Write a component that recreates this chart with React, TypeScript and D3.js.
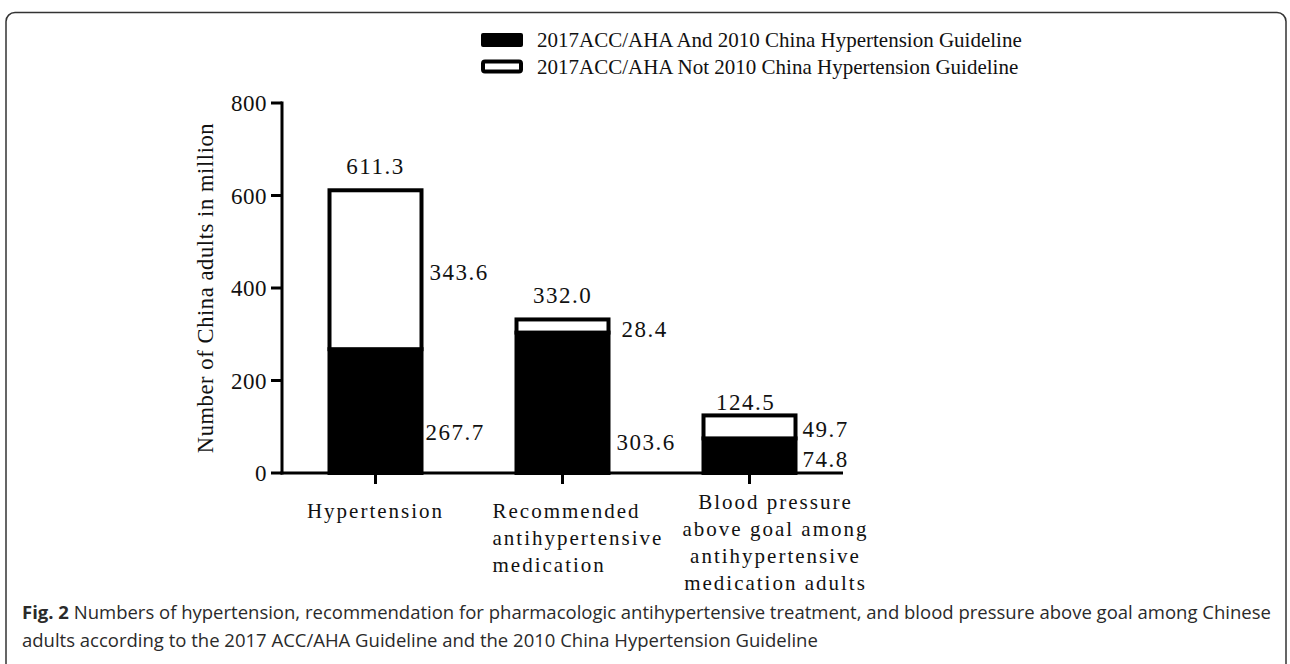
import React from "react";
import * as d3 from "d3";

const categories: string[][] = [
  ["Hypertension"],
  ["Recommended", "antihypertensive", "medication"],
  ["Blood pressure", "above goal among", "antihypertensive", "medication adults"],
];
const catKeys = ["Hypertension", "Recommended", "Blood pressure"];
const bothValues = [267.7, 303.6, 74.8];
const onlyAccValues = [343.6, 28.4, 49.7];
const totalValues = [611.3, 332.0, 124.5];
const yTicks = [0, 200, 400, 600, 800];
const legendLabels = [
  "2017ACC/AHA And 2010 China Hypertension Guideline",
  "2017ACC/AHA Not 2010 China Hypertension Guideline",
];
const yTitle = "Number of China adults in million";
const captionBold = "Fig. 2";
const captionLine1 =
  " Numbers of hypertension, recommendation for pharmacologic antihypertensive treatment, and blood pressure above goal among Chinese";
const captionLine2 =
  "adults according to the 2017 ACC/AHA Guideline and the 2010 China Hypertension Guideline";

export default function App() {
  const W = 1290;
  const H = 664;
  const x0 = 282;
  const x1 = 843;
  const y0 = 473;
  const yTop = 103;
  const serif = "'Liberation Serif', 'Times New Roman', serif";

  const x = d3.scalePoint<string>().domain(catKeys).range([x0, x1]).padding(0.5);
  const y = d3.scaleLinear().domain([0, 800]).range([y0, yTop]);
  const barW = 92;
  const sw = 4;

  // label layout tweaks (pixels)
  const topDy = [-16, -16, -5];
  const topDx = [0, 0, -4];
  const whiteDx = [6, 11, 5];
  const whiteDy = [10, 11, 10];
  const blackDx = [2, 6, 5];
  const blackFromAxis = [-33, -23, -6];
  const catFirstBaseline = [518, 518, 509];
  const catAnchor: ("middle" | "start")[] = ["middle", "start", "middle"];
  const catDx = [0, -70, 26];

  const valueStyle = { fontFamily: serif, fontSize: 23, letterSpacing: 1.5 } as const;
  const capFont = "'Open Sans', sans-serif";

  return (
    <svg
      width={W}
      height={H}
      style={{ position: "absolute", left: 0, top: 0, background: "#fff" }}
    >
      <rect x={6} y={12.5} width={1280} height={720} rx={9} fill="none" stroke="#333" strokeWidth={1.5} />

      {/* legend */}
      <g>
        <rect x={481} y={33} width={42} height={14} rx={2} fill="#000" />
        <text x={537} y={47} style={{ fontFamily: serif, fontSize: 21, letterSpacing: 0 }} fill="#111">
          {legendLabels[0]}
        </text>
        <rect x={483} y={61.5} width={38} height={10} rx={2} fill="#fff" stroke="#000" strokeWidth={4} />
        <text x={537} y={74} style={{ fontFamily: serif, fontSize: 21, letterSpacing: 0 }} fill="#111">
          {legendLabels[1]}
        </text>
      </g>

      {/* bars */}
      {catKeys.map((k, i) => {
        const cx = x(k) as number;
        const left = cx - barW / 2;
        return (
          <g key={k}>
            <rect
              x={left}
              y={y(bothValues[i])}
              width={barW}
              height={y(0) - y(bothValues[i])}
              fill="#000"
              stroke="#000"
              strokeWidth={sw}
            />
            <rect
              x={left}
              y={y(totalValues[i])}
              width={barW}
              height={y(bothValues[i]) - y(totalValues[i])}
              fill="#fff"
              stroke="#000"
              strokeWidth={sw}
            />
            <text
              x={cx + topDx[i]}
              y={y(totalValues[i]) + topDy[i]}
              textAnchor="middle"
              style={valueStyle}
              fill="#111"
            >
              {totalValues[i].toFixed(1)}
            </text>
            <text
              x={left + barW + sw / 2 + whiteDx[i]}
              y={y((bothValues[i] + totalValues[i]) / 2) + whiteDy[i]}
              style={valueStyle}
              fill="#111"
            >
              {onlyAccValues[i].toFixed(1)}
            </text>
            <text
              x={left + barW + sw / 2 + blackDx[i]}
              y={y(0) + blackFromAxis[i]}
              style={valueStyle}
              fill="#111"
            >
              {bothValues[i].toFixed(1)}
            </text>
          </g>
        );
      })}

      {/* y axis */}
      <line x1={x0} x2={x0} y1={y(800) - 1.5} y2={y(0) + 1.5} stroke="#000" strokeWidth={3} />
      {yTicks.map((t) => (
        <g key={t}>
          <line x1={x0 - 11} x2={x0} y1={y(t)} y2={y(t)} stroke="#000" strokeWidth={3} />
          <text
            x={x0 - 15}
            y={y(t) + 8}
            textAnchor="end"
            style={{ fontFamily: serif, fontSize: 23, letterSpacing: 0.5 }}
            fill="#111"
          >
            {t}
          </text>
        </g>
      ))}
      <text
        transform={`translate(213, ${(y(0) + y(800)) / 2}) rotate(-90)`}
        textAnchor="middle"
        style={{ fontFamily: serif, fontSize: 22.5, letterSpacing: 0.6 }}
        fill="#111"
      >
        {yTitle}
      </text>

      {/* x axis */}
      <line x1={x0 - 1.5} x2={x1} y1={y0} y2={y0} stroke="#000" strokeWidth={3} />
      {catKeys.map((k, i) => {
        const cx = x(k) as number;
        return (
          <g key={"t" + k}>
            <line x1={cx} x2={cx} y1={y0} y2={y0 + 11} stroke="#000" strokeWidth={3} />
            {categories[i].map((line, j) => (
              <text
                key={j}
                x={cx + catDx[i]}
                y={catFirstBaseline[i] + j * 27}
                textAnchor={catAnchor[i]}
                style={{ fontFamily: serif, fontSize: 21, letterSpacing: 2 }}
                fill="#111"
              >
                {line}
              </text>
            ))}
          </g>
        );
      })}

      {/* caption */}
      <text x={22} y={619} style={{ fontFamily: capFont, fontSize: 18.5 }} fill="#2a2a2a">
        <tspan fontWeight="bold">{captionBold}</tspan>
        <tspan>{captionLine1}</tspan>
      </text>
      <text x={22} y={647} style={{ fontFamily: capFont, fontSize: 18.5 }} fill="#2a2a2a">
        {captionLine2}
      </text>
    </svg>
  );
}
